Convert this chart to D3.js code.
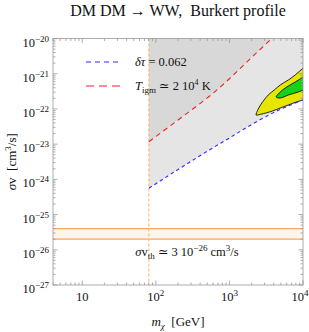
<!DOCTYPE html>
<html>
<head>
<meta charset="utf-8">
<script src="https://cdn.jsdelivr.net/npm/d3@7"></script>
<style>
  body { margin: 0; background: #fff; }
  text { font-family: "Liberation Serif", "DejaVu Serif", serif; fill: #111; white-space: pre; }
</style>
</head>
<body>
<div id="chart"></div>
<script>
// W mass, start of the WW channel
const mW = 80.4;

// delta tau = 0.062 bound (blue dashed)
const blueMass = [80.4, 200, 500, 1000, 2000, 4000, 10000];
const blueSv = [5.6e-25, 1.9e-24, 6.3e-24, 1.5e-23, 3.6e-23, 7.9e-23, 1.8e-22];

// T_igm bound (red dashed)
const redMass = [80.4, 150, 300, 600, 1000, 2000, 3600, 5000];
const redSv = [1.17e-23, 3.1e-23, 9.1e-23, 2.8e-22, 7.2e-22, 2.9e-21, 9.3e-21, 1.9e-20];

// thermal cross section band
const thermalSv = [2e-26, 4e-26];

// fit regions (outer yellow, inner green), closed outlines
const yellowMass = [2312, 2460, 2877, 3365, 4064, 4898, 6295, 7834, 10070, 12000, 12000, 10070, 8091, 6295, 4898, 3819, 3162, 2618];
const yellowSv = [6.7e-23, 9.9e-23, 1.67e-22, 2.48e-22, 3.44e-22, 4.78e-22, 6.6e-22, 9.2e-22, 1.45e-21, 1.9e-21, 1.9e-22, 1.79e-22, 1.57e-22, 1.29e-22, 1.06e-22, 8.7e-23, 7.7e-23, 7.0e-23];
const greenMass = [4325, 4750, 5730, 7830, 10070, 12000, 12000, 10070, 8610, 6300, 4900];
const greenSv = [2.18e-22, 2.83e-22, 3.93e-22, 5.8e-22, 8.05e-22, 1.0e-21, 3.8e-22, 3.44e-22, 3.02e-22, 2.48e-22, 2.04e-22];

// axis ticks
const xMajor = [10, 100, 1000, 10000];
const xLabels = [["10", ""], ["10", "2"], ["10", "3"], ["10", "4"]];
const yExponents = [-20, -21, -22, -23, -24, -25, -26, -27];

const width = 309, height = 332;
const margin = { top: 38.5, right: 6, bottom: 47, left: 53 };

const svg = d3.select("#chart").append("svg")
  .attr("width", width)
  .attr("height", height);

const x = d3.scaleLog().domain([4, 10000]).range([margin.left, width - margin.right]);
const y = d3.scaleLog().domain([1e-27, 1e-20]).range([height - margin.bottom, margin.top]);

const x0 = x.range()[0], x1 = x.range()[1];
const y0 = y.range()[1], y1 = y.range()[0];

svg.append("clipPath").attr("id", "plot")
  .append("rect")
  .attr("x", x0).attr("y", y0)
  .attr("width", x1 - x0).attr("height", y1 - y0);

const g = svg.append("g").attr("clip-path", "url(#plot)");

const blue = blueMass.map((m, i) => [x(m), y(blueSv[i])]);
const red = redMass.map((m, i) => [x(m), y(redSv[i])]);

const line = d3.line().curve(d3.curveMonotoneX);

// light gray: everything above the blue bound
g.append("path")
  .attr("d", line(blue) + `L${x(10000)},${y0 - 5}L${x(mW)},${y0 - 5}Z`)
  .attr("fill", "#e5e5e5");

// darker gray: above the red bound
g.append("path")
  .attr("d", line(red) + `L${x(mW)},${y0 - 5}Z`)
  .attr("fill", "#d8d8d8");

// thermal band
g.append("rect")
  .attr("x", x0).attr("width", x1 - x0)
  .attr("y", y(thermalSv[1]))
  .attr("height", y(thermalSv[0]) - y(thermalSv[1]))
  .attr("fill", "#fff4ea");
thermalSv.forEach(v => {
  g.append("line")
    .attr("x1", x0).attr("x2", x1)
    .attr("y1", y(v)).attr("y2", y(v))
    .attr("stroke", "#f7a85c").attr("stroke-width", 1.3);
});

// m_W line
g.append("line")
  .attr("x1", x(mW)).attr("x2", x(mW))
  .attr("y1", y0).attr("y2", y1)
  .attr("stroke", "#f6b26b").attr("stroke-width", 1)
  .attr("stroke-dasharray", "3,2");

// fit contours
const closed = d3.line().curve(d3.curveCatmullRomClosed.alpha(0.5));
g.append("path")
  .attr("d", closed(yellowMass.map((m, i) => [x(m), y(yellowSv[i])])))
  .attr("fill", "#e6e600").attr("stroke", "#111").attr("stroke-width", 0.9);

// bound lines
g.append("path").attr("d", line(blue))
  .attr("fill", "none").attr("stroke", "#2b2bff").attr("stroke-width", 1.1)
  .attr("stroke-dasharray", "3.5,3");

g.append("path")
  .attr("d", closed(greenMass.map((m, i) => [x(m), y(greenSv[i])])))
  .attr("fill", "#14d214").attr("stroke", "#111").attr("stroke-width", 0.9);

g.append("path").attr("d", line(red))
  .attr("fill", "none").attr("stroke", "#ee2222").attr("stroke-width", 1.1)
  .attr("stroke-dasharray", "5,4");

// frame and ticks (Mathematica style, inward on all sides)
const frame = svg.append("g").attr("stroke", "#999").attr("stroke-width", 0.8).attr("fill", "none");
frame.append("rect").attr("x", x0).attr("y", y0).attr("width", x1 - x0).attr("height", y1 - y0);

const xTicks = [];
[1, 10, 100, 1000].forEach(d => { for (let k = 1; k < 10; k++) xTicks.push(d * k); });
xTicks.push(10000);
xTicks.filter(v => v >= 4 && v <= 10000).forEach(v => {
  const len = xMajor.includes(v) ? 4.5 : 2.5;
  frame.append("line").attr("x1", x(v)).attr("x2", x(v)).attr("y1", y1).attr("y2", y1 - len);
  frame.append("line").attr("x1", x(v)).attr("x2", x(v)).attr("y1", y0).attr("y2", y0 + len);
});

yExponents.forEach(e => {
  for (let k = 1; k < 10; k++) {
    const v = k * Math.pow(10, e);
    if (v > 1e-20 * 1.0001) continue;
    const len = k === 1 ? 4.5 : 2.5;
    frame.append("line").attr("x1", x0).attr("x2", x0 + len).attr("y1", y(v)).attr("y2", y(v));
    frame.append("line").attr("x1", x1).attr("x2", x1 - len).attr("y1", y(v)).attr("y2", y(v));
  }
});

// tick labels
xMajor.forEach((v, i) => {
  const last = i === xMajor.length - 1;
  const t = svg.append("text")
    .attr("x", last ? width - 0.5 : x(v)).attr("y", y1 + 16)
    .attr("text-anchor", last ? "end" : "middle").attr("font-size", 12.5);
  t.append("tspan").text(xLabels[i][0]);
  if (xLabels[i][1]) t.append("tspan").attr("dy", -5).attr("font-size", 9).text(xLabels[i][1]);
});

yExponents.forEach(e => {
  const t = svg.append("text")
    .attr("x", x0 - 4).attr("y", y(Math.pow(10, e)) + 8)
    .attr("text-anchor", "end").attr("font-size", 12.5);
  t.append("tspan").text("10");
  t.append("tspan").attr("dy", -5).attr("font-size", 9).text("\u2212" + (-e));
});

// title and axis titles
svg.append("text")
  .attr("x", 178).attr("y", 16)
  .attr("text-anchor", "middle").attr("font-size", 16)
  .text("DM DM \u2192 WW,\u00a0 Burkert profile");

const xt = svg.append("text")
  .attr("x", 178).attr("y", 326)
  .attr("text-anchor", "middle").attr("font-size", 13);
xt.append("tspan").attr("font-style", "italic").text("m");
xt.append("tspan").attr("font-style", "italic").attr("font-size", 9).attr("dy", 3).text("\u03c7");
xt.append("tspan").attr("dy", -3).text("\u00a0\u00a0[GeV]");

const yt = svg.append("text")
  .attr("transform", `translate(16,${(y0 + y1) / 2}) rotate(-90)`)
  .attr("text-anchor", "middle").attr("font-size", 13);
yt.append("tspan").attr("font-style", "italic").text("\u03c3");
yt.append("tspan").text("v\u00a0\u00a0[cm");
yt.append("tspan").attr("dy", -5).attr("font-size", 9).text("3");
yt.append("tspan").attr("dy", 5).text("/s]");

// legend
const legend = svg.append("g");
legend.append("line").attr("x1", 86).attr("x2", 122).attr("y1", 62).attr("y2", 62)
  .attr("stroke", "#2b2bff").attr("stroke-width", 1.1).attr("stroke-dasharray", "5,4");
legend.append("line").attr("x1", 86).attr("x2", 124).attr("y1", 86).attr("y2", 86)
  .attr("stroke", "#ee2222").attr("stroke-width", 1.1).attr("stroke-dasharray", "8,5");

const l1 = legend.append("text").attr("x", 135).attr("y", 66).attr("font-size", 12.5);
l1.append("tspan").attr("font-style", "italic").text("\u03b4\u03c4");
l1.append("tspan").text(" = 0.062");

const l2 = legend.append("text").attr("x", 135).attr("y", 90).attr("font-size", 12.5);
l2.append("tspan").attr("font-style", "italic").text("T");
l2.append("tspan").attr("font-size", 9).attr("dy", 3).text("igm");
l2.append("tspan").attr("dy", -3).text(" \u2243 2 10");
l2.append("tspan").attr("font-size", 8).attr("dy", -5).text("4");
l2.append("tspan").attr("dy", 5).text(" K");

// thermal label
const th = svg.append("text").attr("x", 187).attr("y", 256)
  .attr("text-anchor", "middle").attr("font-size", 12.5);
th.append("tspan").attr("font-style", "italic").text("\u03c3");
th.append("tspan").text("v");
th.append("tspan").attr("font-size", 9).attr("dy", 3).text("th");
th.append("tspan").attr("dy", -3).text(" \u2243 3 10");
th.append("tspan").attr("font-size", 9).attr("dy", -5).text("\u221226");
th.append("tspan").attr("dy", 5).text(" cm");
th.append("tspan").attr("font-size", 9).attr("dy", -5).text("3");
th.append("tspan").attr("dy", 5).text("/s");
</script>
</body>
</html>
